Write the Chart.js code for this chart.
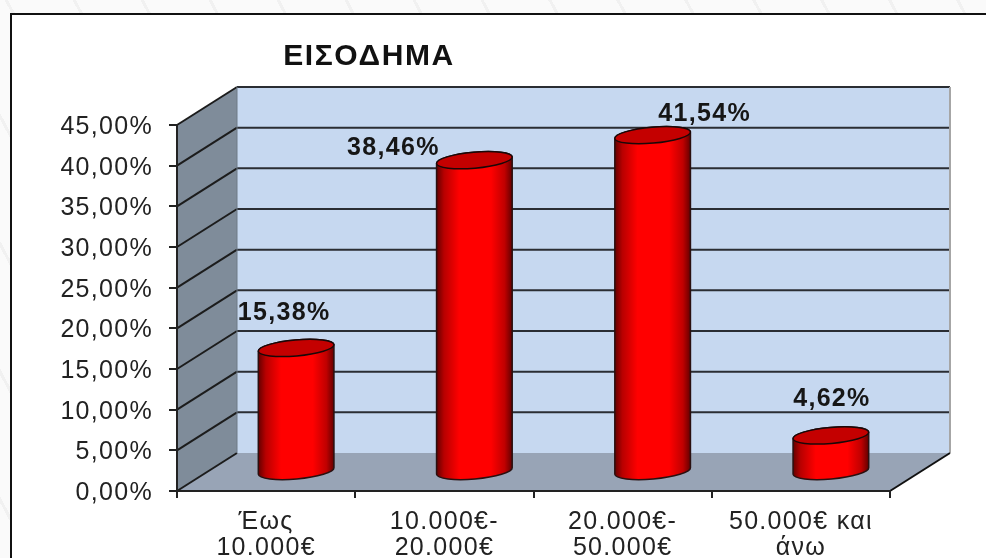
<!DOCTYPE html>
<html>
<head>
<meta charset="utf-8">
<script src="https://cdn.jsdelivr.net/npm/chart.js@4"></script>
<style>
    html, body { margin: 0; padding: 0; width: 986px; height: 558px; overflow: hidden; }
    body { background: repeating-linear-gradient(62deg, #fafafa 0 26px, #f1f1f1 26px 29px, #fafafa 29px 60px); }
    #frame { position: absolute; left: 10px; top: 13px; width: 976px; height: 545px; background: #fff;
             border-left: 2px solid #111; border-top: 2px solid #111; box-sizing: border-box; }
    canvas { position: absolute; left: 0; top: 0; filter: blur(0.4px); }
</style>
</head>
<body>
<div id="frame"></div>
<canvas id="incomeChart" width="986" height="558"></canvas>
<script>
const chartTitle = 'ΕΙΣΟΔΗΜΑ';
const categories = [['Έως', '10.000€'], ['10.000€-', '20.000€'], ['20.000€-', '50.000€'], ['50.000€ και', 'άνω']];
const values = [15.38, 38.46, 41.54, 4.62];

// depth of the fake 3d box, and how far each value label sits from its cylinder top
const depthX = 60;
const depthY = -38;
const labelShift = [[-12, -34], [-81, -11], [52, -20], [1, -35]];

function percent(v) {
    return v.toFixed(2).replace('.', ',') + '%';
}

function fillShape(ctx, points, color) {
    ctx.beginPath();
    points.forEach((p, i) => i ? ctx.lineTo(p[0], p[1]) : ctx.moveTo(p[0], p[1]));
    ctx.closePath();
    ctx.fillStyle = color;
    ctx.fill();
}

function strokeLine(ctx, x1, y1, x2, y2, color, width) {
    ctx.beginPath();
    ctx.moveTo(x1, y1);
    ctx.lineTo(x2, y2);
    ctx.strokeStyle = color;
    ctx.lineWidth = width;
    ctx.stroke();
}

// Walls, floor and the depth part of the gridlines
const box3d = {
    id: 'box3d',
    beforeDraw(chart) {
        const ctx = chart.ctx;
        const a = chart.chartArea;
        ctx.save();
        fillShape(ctx, [[a.left, a.top], [a.left + depthX, a.top + depthY], [a.left + depthX, a.bottom + depthY], [a.left, a.bottom]], '#7f8c9a');
        fillShape(ctx, [[a.left + depthX, a.top + depthY], [a.right + depthX, a.top + depthY], [a.right + depthX, a.bottom + depthY], [a.left + depthX, a.bottom + depthY]], '#c6d8f0');
        fillShape(ctx, [[a.left, a.bottom], [a.left + depthX, a.bottom + depthY], [a.right + depthX, a.bottom + depthY], [a.right, a.bottom]], '#98a4b6');
        chart.scales.y.ticks.forEach(t => {
            const y = chart.scales.y.getPixelForValue(t.value);
            strokeLine(ctx, a.left, y, a.left + depthX, y + depthY, '#1c1c1c', 2);
            if (t.value > 0) {
                strokeLine(ctx, a.left + depthX, y + depthY, a.right + depthX, y + depthY, '#2a2d33', 2);
            }
        });
        strokeLine(ctx, a.right + depthX, a.top + depthY, a.right + depthX, a.bottom + depthY, '#a6a6a6', 2);
        strokeLine(ctx, a.left + depthX, a.top + depthY, a.left + depthX, a.bottom + depthY, '#6f7a86', 1);
        strokeLine(ctx, a.right, a.bottom, a.right + depthX, a.bottom + depthY, '#111', 2);
        ctx.restore();
        // the reference text is a bit stretched sideways
        ctx.letterSpacing = '1.3px';
    },
    afterDatasetsDraw(chart) {
        const ctx = chart.ctx;
        const meta = chart.getDatasetMeta(0);
        const tilt = -5 * Math.PI / 180;
        meta.data.forEach((bar, i) => {
            const cx = bar.x + depthX / 2;
            const top = bar.y + depthY / 2 + 1;
            const base = bar.base + depthY / 2;
            const rx = bar.width / 2;
            const ry = 8;
            const ox = rx * Math.cos(tilt);
            const oy = rx * Math.sin(tilt);

            const grad = ctx.createLinearGradient(cx - ox, 0, cx + ox, 0);
            grad.addColorStop(0, '#640000');
            grad.addColorStop(0.1, '#b80000');
            grad.addColorStop(0.3, '#ff0000');
            grad.addColorStop(0.72, '#ff0000');
            grad.addColorStop(0.9, '#c00000');
            grad.addColorStop(1, '#640000');

            ctx.save();
            ctx.beginPath();
            ctx.ellipse(cx, base, rx, ry, tilt, Math.PI, 0, true);
            ctx.lineTo(cx + ox, top + oy);
            ctx.ellipse(cx, top, rx, ry, tilt, 0, Math.PI, true);
            ctx.closePath();
            ctx.fillStyle = grad;
            ctx.fill();
            ctx.strokeStyle = '#2a1010';
            ctx.lineWidth = 1.5;
            ctx.stroke();

            ctx.beginPath();
            ctx.ellipse(cx, top, rx, ry, tilt, 0, Math.PI * 2);
            ctx.fillStyle = '#c40000';
            ctx.fill();
            ctx.strokeStyle = '#1a0808';
            ctx.stroke();

            ctx.fillStyle = '#161616';
            ctx.font = 'bold 25px "Liberation Sans"';
            ctx.textAlign = 'center';
            ctx.textBaseline = 'middle';
            ctx.fillText(percent(values[i]), cx + labelShift[i][0], top + labelShift[i][1] - 1);
            ctx.restore();
        });

        ctx.save();
        ctx.letterSpacing = '1.6px';
        ctx.fillStyle = '#111';
        ctx.font = 'bold 30px "Liberation Sans"';
        ctx.textAlign = 'center';
        ctx.textBaseline = 'middle';
        ctx.fillText(chartTitle, 369, 57);
        ctx.restore();
    }
};

new Chart(document.getElementById('incomeChart').getContext('2d'), {
    type: 'bar',
    data: {
        labels: categories,
        datasets: [{
            data: values,
            backgroundColor: 'rgba(0, 0, 0, 0)',
            categoryPercentage: 1,
            barPercentage: 0.426
        }]
    },
    options: {
        responsive: false,
        animation: false,
        layout: { padding: { top: 125, right: 96, left: 0, bottom: 0 } },
        plugins: { legend: { display: false }, title: { display: false }, tooltip: { enabled: false } },
        scales: {
            x: {
                afterFit: s => { s.height = 67; },
                border: { color: '#222', width: 2 },
                grid: { drawOnChartArea: false, color: '#222', lineWidth: 2, tickLength: 7 },
                ticks: { color: '#222', maxRotation: 0, autoSkip: false, padding: 11, font: { family: 'Liberation Sans', size: 25, lineHeight: 1.04 } }
            },
            y: {
                min: 0,
                max: 45,
                afterFit: s => { s.width = 177; },
                border: { color: '#222', width: 2 },
                grid: { drawOnChartArea: false, color: '#222', lineWidth: 2, tickLength: 8 },
                ticks: { stepSize: 5, color: '#222', padding: 16, labelOffset: 2, callback: v => percent(v), font: { family: 'Liberation Sans', size: 25 } }
            }
        }
    },
    plugins: [box3d]
});
</script>
</body>
</html>
